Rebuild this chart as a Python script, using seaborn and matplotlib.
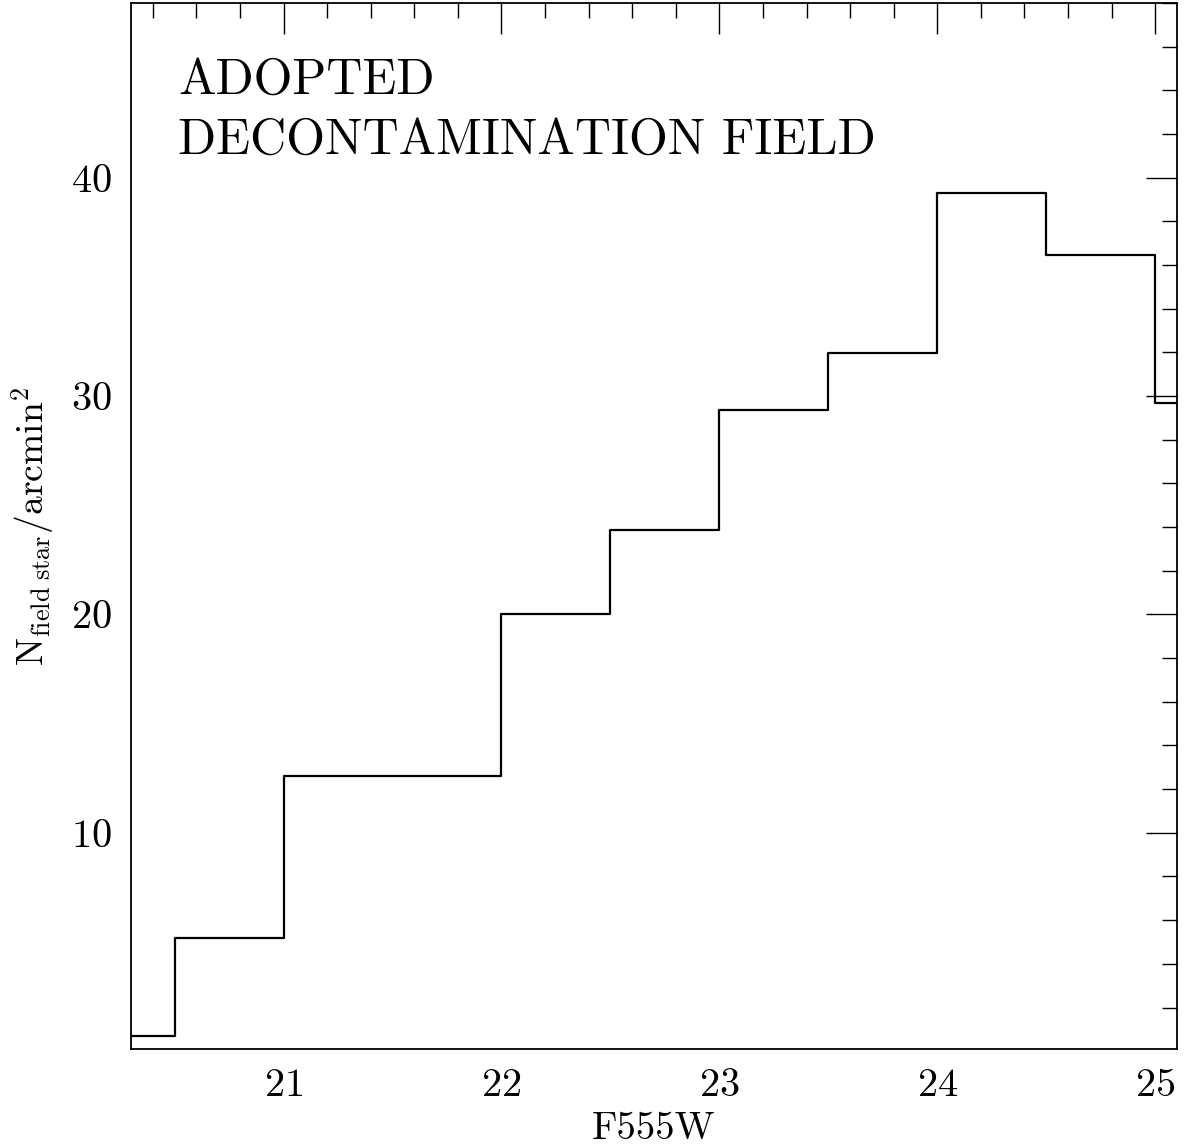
import numpy as np
import pandas as pd
import matplotlib
matplotlib.use("Agg")
import matplotlib.pyplot as plt
import seaborn as sns
from matplotlib.ticker import MultipleLocator

bin_edges = [20.0, 20.5, 21.0, 21.5, 22.0, 22.5, 23.0, 23.5, 24.0, 24.5, 25.0, 25.5]
bin_centers = [20.25, 20.75, 21.25, 21.75, 22.25, 22.75, 23.25, 23.75, 24.25, 24.75, 25.25]
density = [0.7, 5.2, 12.6, 12.6, 20.0, 23.85, 29.35, 31.95, 39.3, 36.45, 29.7]
x_ticks = [21, 22, 23, 24, 25]
y_ticks = [10, 20, 30, 40]

sns.set_style("white")
plt.rcParams["font.family"] = ["cmr10", "DejaVu Serif"]
plt.rcParams["mathtext.fontset"] = "cm"
plt.rcParams["axes.formatter.use_mathtext"] = True
plt.rcParams["text.color"] = "black"
plt.rcParams["axes.labelcolor"] = "black"
plt.rcParams["xtick.color"] = "black"
plt.rcParams["ytick.color"] = "black"

df = pd.DataFrame({"mag": bin_centers, "n": density})

fig = plt.figure(figsize=(11.86, 11.46), dpi=100)
ax = fig.add_axes([131/1186, 1 - 1049/1146, (1177-131)/1186, (1049-3)/1146])

sns.histplot(data=df, x="mag", weights="n", bins=bin_edges, element="step",
             fill=False, color="black", linewidth=1.6, ax=ax)

ax.set_xlim(20.3, 25.1)
ax.set_ylim(0.1, 48.0)
ax.set_xticks(x_ticks)
ax.set_yticks(y_ticks)
ax.xaxis.set_minor_locator(MultipleLocator(0.2))
ax.yaxis.set_minor_locator(MultipleLocator(2))
ax.tick_params(which="both", direction="in", top=True, right=True,
               labelsize=29, width=1.0, labelcolor="black")
ax.tick_params(which="major", length=22, pad=14)
ax.tick_params(which="minor", length=11)
for s in ax.spines.values():
    s.set_color("black")
    s.set_linewidth(1.3)

ax.set_xlabel("F555W", fontsize=28, labelpad=5, color="black")
ax.set_ylabel(r"$\mathrm{N_{field\ star}/arcmin^2}$", fontsize=27, labelpad=10, color="black")

ax.text(0.045, 0.948, "ADOPTED\nDECONTAMINATION FIELD", transform=ax.transAxes,
        fontsize=36, va="top", ha="left", linespacing=1.4, color="black")

fig.savefig("out.png", dpi=100)
